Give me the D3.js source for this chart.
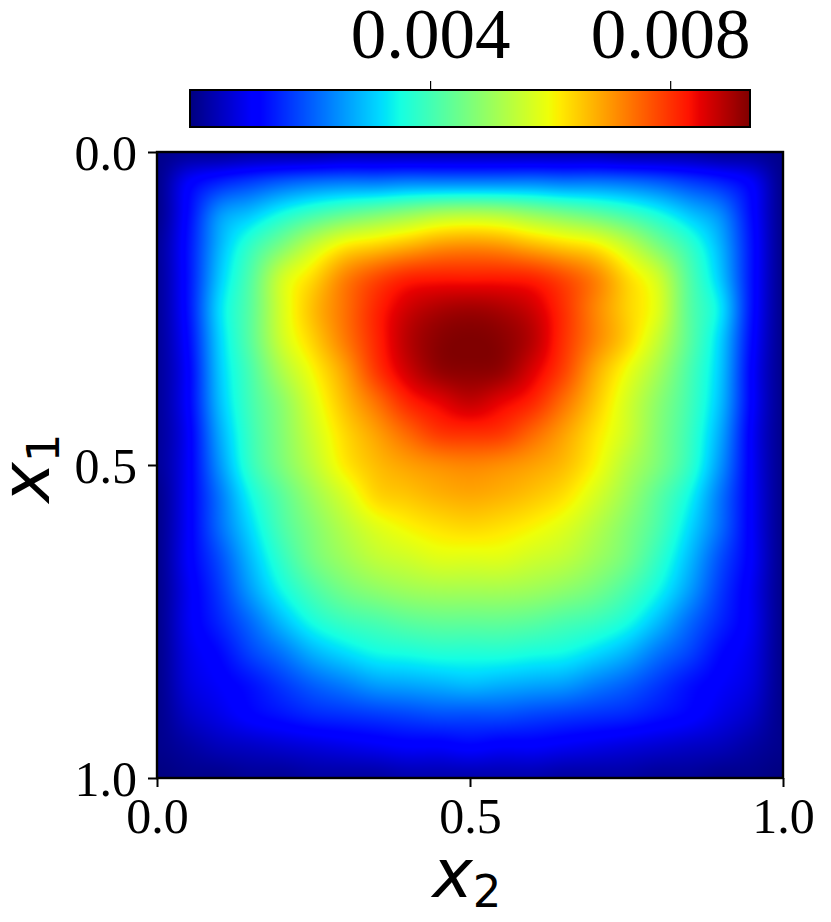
<!DOCTYPE html>
<html>
<head>
<meta charset="utf-8">
<script src="https://cdn.jsdelivr.net/npm/d3@7"></script>
<style>
html,body{margin:0;padding:0;background:#fff}
svg{display:block}
</style>
</head>
<body>
<svg id="chart" width="831" height="922"></svg>
<script>
// Field values, as percent of the colour bar's maximum.
// Rows: x1 = 0, 0.05 ... 1.0; columns: x2 = 0, 0.05 ... 1.0
const fieldPercent = [
[1,2,2,3,3,3,4,4,4,4,4,4,4,4,4,3,3,3,2,2,1],
[1,11,16,19,22,24,25,25,26,26,26,26,26,25,25,24,22,19,16,11,1],
[1,13,27,32,38,43,47,50,53,56,57,56,53,50,47,43,38,32,26,13,1],
[2,14,30,41,50,59,66,69,72,75,76,75,72,69,66,59,50,41,30,14,1],
[2,14,32,45,60,68,77,83,87,88,88,88,87,83,77,68,60,45,32,14,1],
[2,14,34,46,61,71,79,87,93,96,97,96,93,86,77,69,62,46,35,14,1],
[2,13,33,46,60,69,78,87,95,99,100,99,95,86,77,69,59,46,33,13,1],
[2,12,32,44,56,65,74,85,93,98,99,98,92,84,73,64,55,44,32,12,1],
[2,12,31,43,52,62,71,79,87,91,94,91,87,79,70,61,52,43,31,12,1],
[2,11,29,42,51,60,68,74,80,85,86,85,80,74,67,60,51,42,29,11,1],
[2,11,27,41,50,58,66,71,74,76,77,76,74,71,65,57,50,41,27,11,1],
[1,11,24,37,46,54,61,68,70,72,73,72,70,67,61,54,46,37,24,11,1],
[1,11,23,34,44,51,57,62,65,67,68,67,65,62,57,51,44,34,23,11,1],
[1,11,20,31,41,49,54,58,60,62,62,62,60,58,54,49,41,31,20,11,1],
[1,10,18,28,37,44,49,52,54,55,55,55,54,52,49,44,37,28,18,10,1],
[1,10,16,23,31,38,42,44,46,47,47,47,46,44,42,38,31,23,16,10,1],
[1,9,13,19,24,30,34,37,38,39,39,39,38,37,34,30,24,19,13,9,1],
[1,8,11,14,18,22,25,28,29,30,31,30,29,28,25,22,18,14,11,8,1],
[1,6,9,12,14,16,17,18,19,20,20,20,19,18,17,16,14,12,9,6,1],
[1,3,5,6,7,8,9,10,11,11,12,11,11,10,9,8,7,6,5,3,1],
[0,1,1,2,2,3,3,3,4,4,4,4,4,3,3,3,2,2,1,1,0]
];
const colorbarMax = 0.00933;
const colorbarTicks = [0.004, 0.008];
const axisTicks = [0, 0.5, 1];

const svg = d3.select("#chart");
const box = {left:157, top:152, size:626};
const bar = {left:190, right:750, top:90, bottom:127};
const serif = "'Liberation Serif','Times New Roman',serif";
const mathFont = "'DejaVu Sans',sans-serif";

const xScale = d3.scaleLinear().domain([0,1]).range([box.left, box.left+box.size]);
const yScale = d3.scaleLinear().domain([0,1]).range([box.top, box.top+box.size]);
const barScale = d3.scaleLinear().domain([0,colorbarMax]).range([bar.left, bar.right]);

// matplotlib "jet"
const jetR = d3.scaleLinear().domain([0,.35,.66,.89,1]).range([0,0,1,1,.5]).clamp(true);
const jetG = d3.scaleLinear().domain([0,.125,.375,.64,.91,1]).range([0,0,1,1,0,0]).clamp(true);
const jetB = d3.scaleLinear().domain([0,.11,.34,.65,1]).range([.5,1,1,0,0]).clamp(true);
const colorScale = v => { const t = v/colorbarMax; return [jetR(t)*255, jetG(t)*255, jetB(t)*255]; };

// Bicubic image resampling of the read grid, as imshow(interpolation="bicubic") does
const rows = fieldPercent.length, cols = fieldPercent[0].length;
const cell = (r,c) => fieldPercent[Math.max(0,Math.min(rows-1,r))][Math.max(0,Math.min(cols-1,c))]/100*colorbarMax;
const cr = (a,b,c,d,t) => b + .5*t*(c-a + t*(2*a-5*b+4*c-d + t*(3*(b-c)+d-a)));
function sample(x1,x2){
  const fy = x1*(rows-1), fx = x2*(cols-1);
  const r = Math.floor(fy), c = Math.floor(fx), ty = fy-r, tx = fx-c;
  const line = i => cr(cell(i,c-1),cell(i,c),cell(i,c+1),cell(i,c+2),tx);
  return cr(line(r-1),line(r),line(r+1),line(r+2),ty);
}
function paint(w,h,fn){
  const cv = document.createElement("canvas"); cv.width=w; cv.height=h;
  const ctx = cv.getContext("2d"), img = ctx.createImageData(w,h);
  for(let j=0;j<h;j++)for(let i=0;i<w;i++){
    const [r,g,b] = colorScale(fn(i,j)), k=(j*w+i)*4;
    img.data[k]=r;img.data[k+1]=g;img.data[k+2]=b;img.data[k+3]=255;
  }
  ctx.putImageData(img,0,0);
  return cv.toDataURL();
}
svg.append("image").attr("x",box.left).attr("y",box.top).attr("width",box.size).attr("height",box.size)
  .attr("href",paint(box.size,box.size,(i,j)=>sample(yScale.invert(box.top+j+.5),xScale.invert(box.left+i+.5))));

// Main frame and axes
svg.append("rect").attr("x",box.left).attr("y",box.top).attr("width",box.size).attr("height",box.size)
  .attr("fill","none").attr("stroke","#000").attr("stroke-width",2.4);
const fmt = d3.format(".1f");
const styleAxis = g => {
  g.select(".domain").remove();
  g.selectAll("line").attr("stroke","#000").attr("stroke-width",2);
  g.selectAll("text").attr("fill","#000").attr("font-family",serif).attr("font-size",50);
};
svg.append("g").attr("transform",`translate(0,${box.top+box.size})`)
  .call(d3.axisBottom(xScale).tickValues(axisTicks).tickFormat(fmt).tickSize(9).tickPadding(10)).call(styleAxis);
svg.append("g").attr("transform",`translate(${box.left},0)`)
  .call(d3.axisLeft(yScale).tickValues(axisTicks).tickFormat(fmt).tickSize(9).tickPadding(11)).call(styleAxis)
  .selectAll("text").attr("dy","0.35em");

// Colour bar
svg.append("image").attr("x",bar.left).attr("y",bar.top).attr("width",bar.right-bar.left).attr("height",bar.bottom-bar.top)
  .attr("preserveAspectRatio","none")
  .attr("href",paint(bar.right-bar.left,1,i=>barScale.invert(bar.left+i+.5)));
svg.append("rect").attr("x",bar.left).attr("y",bar.top).attr("width",bar.right-bar.left).attr("height",bar.bottom-bar.top)
  .attr("fill","none").attr("stroke","#000").attr("stroke-width",2);
const barAxis = svg.append("g").attr("transform",`translate(0,${bar.top})`)
  .call(d3.axisTop(barScale).tickValues(colorbarTicks).tickFormat(d3.format(".3f")).tickSize(9).tickPadding(23));
barAxis.select(".domain").remove();
barAxis.selectAll("line").attr("stroke","#000").attr("stroke-width",1.2);
barAxis.selectAll("text").attr("fill","#000").attr("font-family",serif).attr("font-size",71);

// Axis titles
function mathLabel(g,sub){
  const t = g.append("text").attr("font-family",mathFont).attr("font-size",68).attr("fill","#000").attr("text-anchor","middle");
  t.append("tspan").attr("font-style","italic").text("x");
  t.append("tspan").attr("font-size",45).attr("dy",10).text(sub);
}
mathLabel(svg.append("g").attr("transform","translate(467,897)"),"2");
mathLabel(svg.append("g").attr("transform","translate(49,468) rotate(-90)"),"1");
</script>
</body>
</html>
